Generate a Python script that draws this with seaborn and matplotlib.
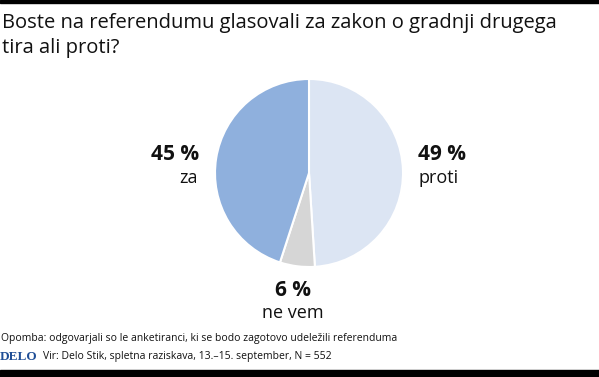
import seaborn as sns
import matplotlib.pyplot as plt
from matplotlib.patches import Rectangle

# data
labels = ['proti', 'ne vem', 'za']
shares = [49, 6, 45]
colors = ['#dce5f3', '#d6d6d6', '#8fb0dd']

title = 'Boste na referendumu glasovali za zakon o gradnji drugega\ntira ali proti?'
note = 'Opomba: odgovarjali so le anketiranci, ki se bodo zagotovo udeležili referenduma'
source = 'Vir: Delo Stik, spletna raziskava, 13.–15. september, N = 552'

sns.set_theme(style='white')
plt.rcParams['font.family'] = ['Open Sans', 'DejaVu Sans']

W, H = 599, 377
fig = plt.figure(figsize=(W / 100, H / 100), dpi=100)
fig.patch.set_facecolor('white')

def fx(x):
    return x / W

def fy(y):
    return 1 - y / H

# pie axes: centre (309, 172), radius 94 px
cx, cy, r = 309, 173, 94
ax = fig.add_axes([fx(cx - r), fy(cy + r), 2 * r / W, 2 * r / H])
ax.pie(shares, colors=colors, startangle=90, counterclock=False,
       wedgeprops=dict(edgecolor='white', linewidth=1.5), radius=1)
ax.set_xlim(-1, 1)
ax.set_ylim(-1, 1)
ax.set_aspect('auto')
ax.axis('off')

# black bars top and bottom
fig.add_artist(Rectangle((0, fy(3)), 1, 3 / H, transform=fig.transFigure,
                         color='black', zorder=5))
fig.add_artist(Rectangle((0, 0), 1, 7 / H, transform=fig.transFigure,
                         color='black', zorder=5))

fig.text(fx(2), fy(13), title, fontsize=14.5, va='top', ha='left',
         color='#111111', linespacing=1.3)

# slice labels
fig.text(fx(199), fy(155), f'{shares[2]} %', fontsize=15, fontweight='bold',
         ha='right', va='center', color='#111111')
fig.text(fx(189), fy(178), labels[2], fontsize=13, ha='center', va='center',
         color='#111111')
fig.text(fx(418), fy(155), f'{shares[0]} %', fontsize=15, fontweight='bold',
         ha='left', va='center', color='#111111')
fig.text(fx(418), fy(178), labels[0], fontsize=13, ha='left', va='center',
         color='#111111')
fig.text(fx(293), fy(291), f'{shares[1]} %', fontsize=15, fontweight='bold',
         ha='center', va='center', color='#111111')
fig.text(fx(293), fy(313), labels[1], fontsize=13, ha='center', va='center',
         color='#111111')

# footer
fig.text(fx(1), fy(338), note, fontsize=7.5, ha='left', va='center',
         color='#111111')
fig.text(fx(0), fy(357), 'DELO', fontsize=9.5, fontweight='bold',
         family='Liberation Serif', ha='left', va='center', color='#1f4e96')
fig.text(fx(43), fy(357), source, fontsize=7.5, ha='left', va='center',
         color='#111111')

fig.savefig('out.png', dpi=100, facecolor='white')
